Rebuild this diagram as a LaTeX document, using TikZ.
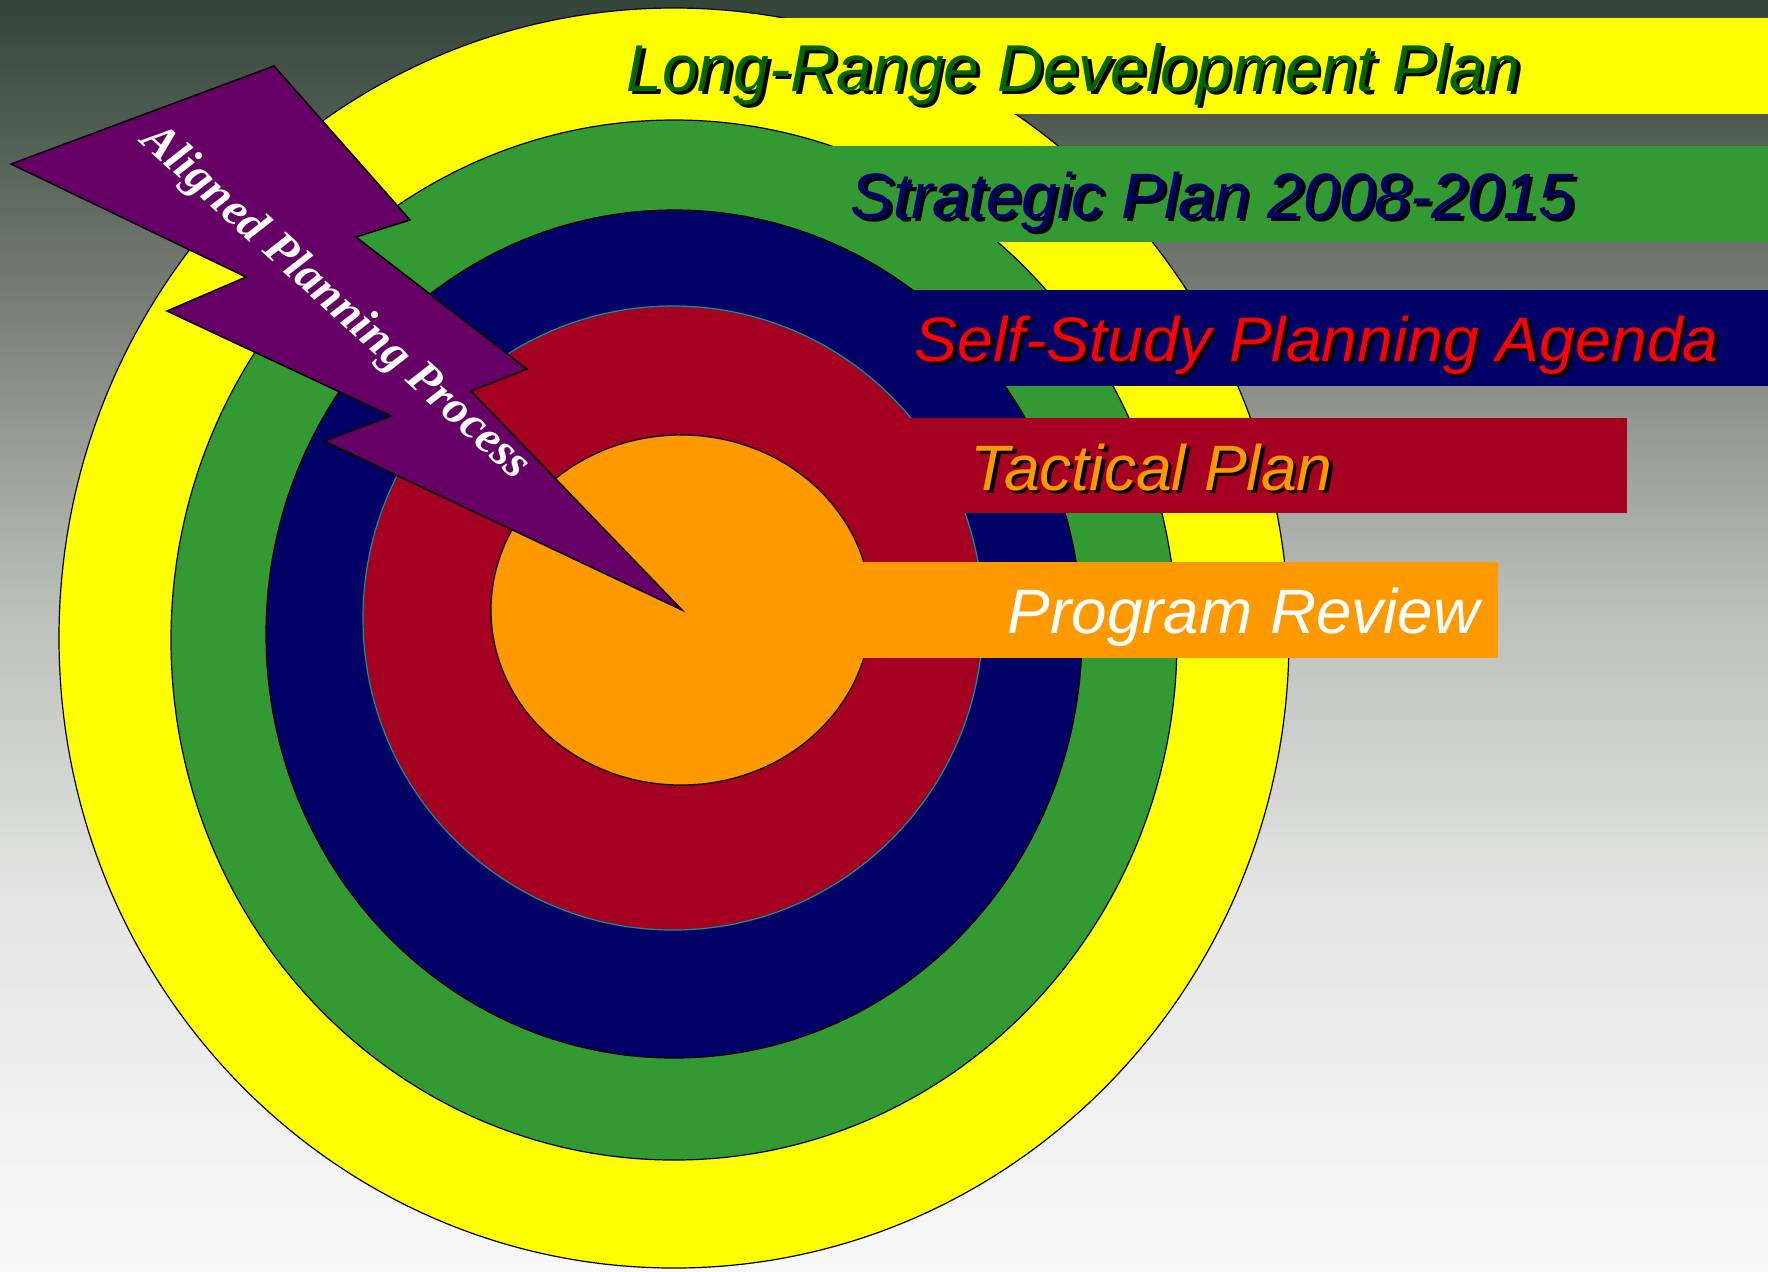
\documentclass[tikz,border=0pt]{standalone}
\usepackage{fontspec}
\usepackage{graphicx}
\usepackage{xcolor}
\setmainfont{Liberation Sans}
\newfontfamily\boltfont{Liberation Serif}
\definecolor{bgA}{RGB}{52,68,56}
\definecolor{bgB}{RGB}{120,126,118}
\definecolor{bgC}{RGB}{186,190,184}
\definecolor{bgD}{RGB}{228,229,228}
\definecolor{bgE}{RGB}{248,248,248}
\definecolor{yellowring}{RGB}{255,255,0}
\definecolor{greenring}{RGB}{51,153,51}
\definecolor{navyring}{RGB}{0,0,102}
\definecolor{redring}{RGB}{165,0,33}
\definecolor{orangering}{RGB}{255,153,0}
\definecolor{redrim}{RGB}{0,153,153}
\definecolor{boltpurple}{RGB}{102,0,102}
\definecolor{greentext}{RGB}{0,102,0}
\definecolor{navytext}{RGB}{0,0,102}

\begin{document}
\begin{tikzpicture}[x=0.1mm, y=-0.1mm,
	ring/.style={draw=black, line width=0.12mm},
	bartext/.style={anchor=base west, inner sep=0pt, font=\fontsize{18pt}{20pt}\selectfont\itshape},
	dropshadow/.style={text=black},
	bolttext/.style={text=white, rotate=-42, inner sep=0pt, font=\boltfont\fontsize{13.6pt}{16pt}\selectfont\bfseries\itshape}]
	\useasboundingbox (0, 0) rectangle (1768, 1271);
	\shade[top color=bgA, bottom color=bgB] (0, 0) rectangle (1768, 301);
	\shade[top color=bgB, bottom color=bgC] (0, 300) rectangle (1768, 601);
	\shade[top color=bgC, bottom color=bgD] (0, 600) rectangle (1768, 901);
	\shade[top color=bgD, bottom color=bgE] (0, 900) rectangle (1768, 1271);

	\draw[ring, fill=yellowring] (674, 638) ellipse [x radius=615, y radius=630];
	\fill[yellowring] (700, 17.7) rectangle (1768, 114);
	\draw[ring, fill=greenring] (674, 640) ellipse [x radius=503, y radius=520];
	\fill[greenring] (700, 146) rectangle (1768, 242);
	\draw[ring, fill=navyring] (674, 634) ellipse [x radius=408, y radius=424];
	\fill[navyring] (700, 290) rectangle (1768, 386);
	\draw[ring, draw=redrim, fill=redring] (673, 618) ellipse [x radius=310, y radius=312];
	\fill[redring] (700, 418) rectangle (1627, 513);
	\draw[ring, fill=orangering] (681, 610) ellipse [x radius=190, y radius=175];
	\fill[orangering] (700, 562) rectangle (1498, 658);

	\draw[line width=0.15mm, fill=boltpurple] (11, 164) -- (274, 66) -- (410, 220) -- (356, 237) -- (527, 369) -- (471, 391) -- (682, 610) -- (324, 441) -- (391, 416) -- (167, 311) -- (246, 277) -- cycle;
	\node (app) [bolttext] at (335, 303) {\resizebox{50.6mm}{!}{Aligned Planning Process}};

	\node (lrdp shadow) [bartext, dropshadow] at (629.5, 94.5) {\resizebox{89.4mm}{4.8mm}{Long-Range Development Plan}};
	\node (lrdp) [bartext, text=greentext] at (626, 91) {\resizebox{89.4mm}{4.8mm}{Long-Range Development Plan}};
	\node (spl shadow) [bartext, dropshadow] at (853.5, 221.5) {\resizebox{72.4mm}{4.65mm}{Strategic Plan 2008-2015}};
	\node (spl) [bartext, text=navytext] at (850, 218) {\resizebox{72.4mm}{4.65mm}{Strategic Plan 2008-2015}};
	\node (sspa shadow) [bartext, dropshadow] at (917.5, 364.5) {\resizebox{80.4mm}{4.55mm}{Self-Study Planning Agenda}};
	\node (sspa) [bartext, text=red] at (914, 361) {\resizebox{80.4mm}{4.55mm}{Self-Study Planning Agenda}};
	\node (tp shadow) [bartext, dropshadow] at (973.5, 493.5) {\resizebox{36.2mm}{4.65mm}{Tactical Plan}};
	\node (tp) [bartext, text=orangering] at (970, 490) {\resizebox{36.2mm}{4.65mm}{Tactical Plan}};
	\node (pr) [bartext, text=white] at (1007, 633) {\resizebox{47.2mm}{4.55mm}{Program Review}};
\end{tikzpicture}
\end{document}
